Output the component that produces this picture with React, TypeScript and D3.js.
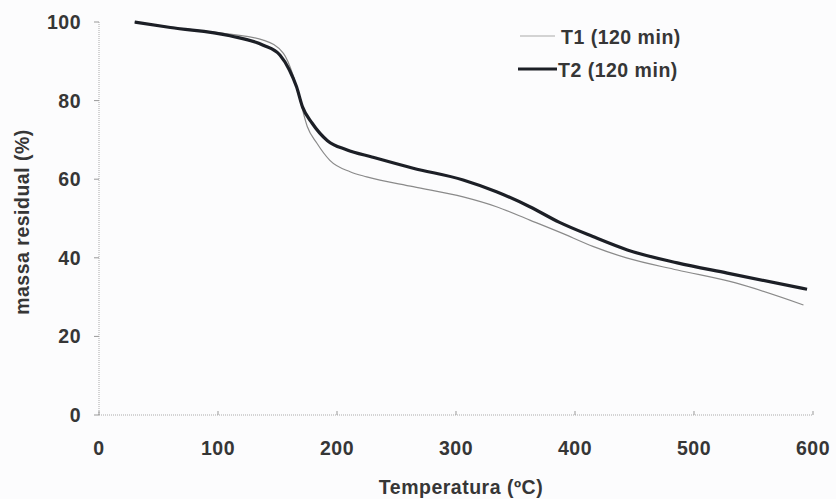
import React from "react";
import * as d3 from "d3";

const xTicks = [0, 100, 200, 300, 400, 500, 600];
const yTicks = [0, 20, 40, 60, 80, 100];

const t1Temp = [30, 60, 110, 138, 155, 163, 169, 175, 183, 194, 211, 225, 264, 306, 334, 362, 388, 415, 444, 486, 535, 592];
const t1Mass = [100, 98.7, 96.9, 95.4, 92, 86.5, 80, 73.4, 69.2, 64.8, 61.9, 60.6, 58.1, 55.5, 53, 49.6, 46.4, 42.9, 39.9, 36.9, 33.6, 28];

const t2Temp = [30, 60, 110, 138, 152, 160, 166, 171, 179, 192, 208, 230, 264, 306, 334, 362, 387, 415, 444, 486, 528, 595];
const t2Mass = [100, 98.6, 96.5, 94.1, 91.6, 87.8, 83.5, 78.4, 74.3, 69.8, 67.5, 65.6, 62.8, 59.8, 56.8, 53, 49, 45.4, 42, 38.7, 36.1, 32];

const seriesNames = ["T1 (120 min)", "T2 (120 min)"];

export default function App() {
  const W = 836, H = 499;
  const x = d3.scaleLinear().domain([0, 600]).range([99, 813]);
  const y = d3.scaleLinear().domain([0, 100]).range([415, 22]);
  const line = d3.line<[number, number]>().x(d => x(d[0])).y(d => y(d[1])).curve(d3.curveMonotoneX);
  const t1 = t1Temp.map((t, i) => [t, t1Mass[i]] as [number, number]);
  const t2 = t2Temp.map((t, i) => [t, t2Mass[i]] as [number, number]);
  const font = "'Liberation Sans', Arial, sans-serif";
  const txt = "#363636";
  const fs = 19.5;
  const ls = 0.5;
  return (
    <svg width={W} height={H} style={{ position: "absolute", left: 0, top: 0 }} fontFamily={font}>
      <rect x={0} y={0} width={W} height={H} fill="#fcfcfd" />
      <line x1={x(0)} x2={x(0)} y1={y(0)} y2={y(100)} stroke="#aaa" strokeWidth={1} strokeDasharray="1 1" />
      <line x1={x(0)} x2={x(600)} y1={y(0)} y2={y(0)} stroke="#aaa" strokeWidth={1} strokeDasharray="1 1" />
      {yTicks.map(v => (
        <g key={"y" + v}>
          <line x1={x(0) - 5} x2={x(0)} y1={y(v)} y2={y(v)} stroke="#999" />
          <text x={81} y={y(v)} dy="0.36em" textAnchor="end" fontSize={fs} fontWeight="bold" fill={txt} letterSpacing={ls}>{v}</text>
        </g>
      ))}
      {xTicks.map(v => (
        <g key={"x" + v}>
          <line x1={x(v)} x2={x(v)} y1={y(0) - 4} y2={y(0)} stroke="#999" />
          <text x={x(v)} y={455} textAnchor="middle" fontSize={fs} fontWeight="bold" fill={txt} letterSpacing={ls}>{v}</text>
        </g>
      ))}
      <text x={461} y={494} textAnchor="middle" fontSize={fs} fontWeight="bold" fill={txt} letterSpacing={ls}>Temperatura (ºC)</text>
      <text transform={`translate(29,222) rotate(-90)`} textAnchor="middle" fontSize={fs} fontWeight="bold" fill={txt} letterSpacing={ls}>massa residual (%)</text>
      <path d={line(t1) || ""} fill="none" stroke="#8a8a8a" strokeWidth={1.2} />
      <path d={line(t2) || ""} fill="none" stroke="#1c1f26" strokeWidth={3.2} />
      <line x1={520} x2={555} y1={36} y2={36} stroke="#aaa" strokeWidth={1.2} />
      <text x={561} y={37} dy="0.36em" fontSize={fs} fontWeight="bold" fill={txt} letterSpacing={ls}>{seriesNames[0]}</text>
      <line x1={518} x2={557} y1={69} y2={69} stroke="#1c1f26" strokeWidth={3.2} />
      <text x={558} y={70} dy="0.36em" fontSize={fs} fontWeight="bold" fill={txt} letterSpacing={ls}>{seriesNames[1]}</text>
    </svg>
  );
}
